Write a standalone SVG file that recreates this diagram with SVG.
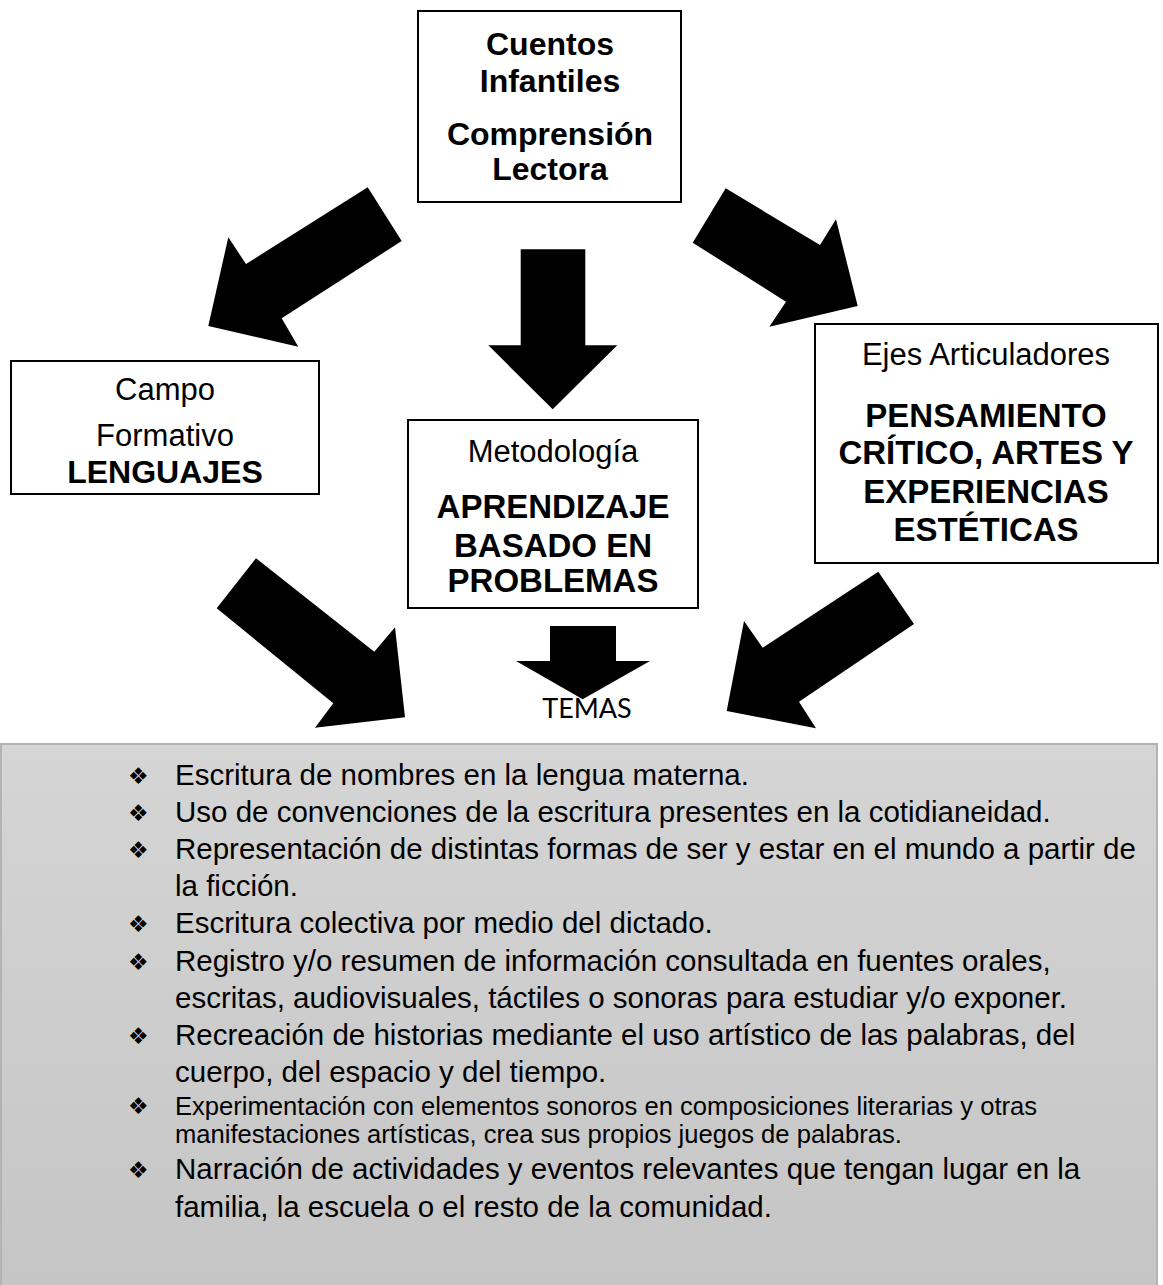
<svg xmlns="http://www.w3.org/2000/svg" width="1163" height="1285" viewBox="0 0 1163 1285">
<defs>
<linearGradient id="g" x1="0" y1="0" x2="0" y2="1">
<stop offset="0" stop-color="#d5d5d5"/>
<stop offset="1" stop-color="#c5c5c5"/>
</linearGradient>
<style>
.box{fill:#fff;stroke:#000;stroke-width:2}
.t{font-family:"Liberation Sans",Arial,sans-serif;font-size:31px;text-anchor:middle;fill:#000}
.b{font-weight:bold;font-size:32px}
.bl{font-weight:bold;font-size:33px}
.arrow{fill:#000}
.li{font-family:"Liberation Sans",Arial,sans-serif;font-size:29.5px;fill:#000}
.sm{font-size:25.6px}
.bu{font-family:"DejaVu Sans",sans-serif;font-size:23px;fill:#000}
</style>
</defs>
<rect width="1163" height="1285" fill="#fff"/>
<g id="connectors">
<polygon class="arrow" points="367.7,187.3 401.7,241 281.7,318.3 298.3,346.7 208.3,326 228.3,237.3 246,264"/>
<polygon class="arrow" points="520.7,249.3 585.3,249.3 585.3,345.3 617.3,345.3 552.7,409.3 488.3,345.3 520.7,345.3"/>
<polygon class="arrow" points="725.7,188.3 692.7,242.7 786,301.7 769.3,326.7 857.7,306 836,219.3 820,245"/>
<polygon class="arrow" points="256,558.3 216.7,608.3 333.3,703.3 315,727.7 405,717.3 395,627.3 374.3,651.7"/>
<polygon class="arrow" points="550,626 616,626 616,661 650,661 582.7,699.3 516,661 550,661"/>
<polygon class="arrow" points="878.3,571.7 914,624 799,701.7 816,728.3 726.7,711 744,621 762.7,647.7"/>
</g>
<g id="top">
<rect class="box" x="418" y="11" width="263" height="191"/>
<text class="t b" x="550" y="55">Cuentos</text>
<text class="t b" x="550" y="92">Infantiles</text>
<text class="t b" x="550" y="145">Comprensión</text>
<text class="t b" x="550" y="180">Lectora</text>
</g>
<g id="campo">
<rect class="box" x="11" y="361" width="308" height="133"/>
<text class="t" x="165" y="400">Campo</text>
<text class="t" x="165" y="446">Formativo</text>
<text class="t b" x="165" y="483">LENGUAJES</text>
</g>
<g id="metodologia">
<rect class="box" x="408" y="420" width="290" height="188"/>
<text class="t" x="553" y="462">Metodología</text>
<text class="t bl" x="553" y="518">APRENDIZAJE</text>
<text class="t bl" x="553" y="557">BASADO EN</text>
<text class="t bl" x="553" y="592">PROBLEMAS</text>
</g>
<g id="ejes">
<rect class="box" x="815" y="324" width="343" height="239"/>
<text class="t" x="986" y="365">Ejes Articuladores</text>
<text class="t bl" x="986" y="427">PENSAMIENTO</text>
<text class="t bl" x="986" y="464">CRÍTICO, ARTES Y</text>
<text class="t bl" x="986" y="503">EXPERIENCIAS</text>
<text class="t bl" x="986" y="541">ESTÉTICAS</text>
</g>
<g id="temas-label">
<text x="587" y="718" font-family="Lato,'Open Sans',sans-serif" font-size="27" text-anchor="middle" fill="#000">TEMAS</text>
</g>
<g id="temas">
<rect x="1" y="744" width="1156" height="545" fill="url(#g)" stroke="#b3b3b3" stroke-width="2"/>
<text class="bu" x="128" y="784">❖</text>
<text class="li" x="175" y="785">Escritura de nombres en la lengua materna.</text>
<text class="bu" x="128" y="821">❖</text>
<text class="li" x="175" y="822">Uso de convenciones de la escritura presentes en la cotidianeidad.</text>
<text class="bu" x="128" y="858">❖</text>
<text class="li" x="175" y="859">Representación de distintas formas de ser y estar en el mundo a partir de</text>
<text class="li" x="175" y="896">la ficción.</text>
<text class="bu" x="128" y="932">❖</text>
<text class="li" x="175" y="933">Escritura colectiva por medio del dictado.</text>
<text class="bu" x="128" y="970">❖</text>
<text class="li" x="175" y="971">Registro y/o resumen de información consultada en fuentes orales,</text>
<text class="li" x="175" y="1008">escritas, audiovisuales, táctiles o sonoras para estudiar y/o exponer.</text>
<text class="bu" x="128" y="1044">❖</text>
<text class="li" x="175" y="1045">Recreación de historias mediante el uso artístico de las palabras, del</text>
<text class="li" x="175" y="1082">cuerpo, del espacio y del tiempo.</text>
<text class="bu" x="128" y="1114">❖</text>
<text class="li sm" x="175" y="1115">Experimentación con elementos sonoros en composiciones literarias y otras</text>
<text class="li sm" x="175" y="1143">manifestaciones artísticas, crea sus propios juegos de palabras.</text>
<text class="bu" x="128" y="1178">❖</text>
<text class="li" x="175" y="1179">Narración de actividades y eventos relevantes que tengan lugar en la</text>
<text class="li" x="175" y="1217">familia, la escuela o el resto de la comunidad.</text>
</g>
</svg>
